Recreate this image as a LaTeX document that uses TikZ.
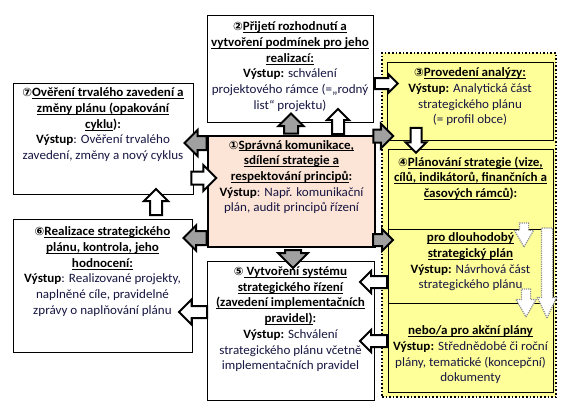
\documentclass[tikz,border=0pt]{standalone}
\usepackage{fontspec}
\setmainfont{Carlito}[FakeStretch=1.03]
\newfontfamily\symfont{DejaVu Sans}
\usetikzlibrary{positioning,shapes.arrows}
\definecolor{peach}{RGB}{252,228,214}
\definecolor{lemon}{RGB}{255,255,153}
\definecolor{ink}{RGB}{22,22,66}
\definecolor{arrg}{RGB}{160,160,160}
\newsavebox{\hdbox}
\newcommand{\hd}[1]{{\color{black}\bfseries\sbox{\hdbox}{#1}\rlap{\rule[-2.3pt]{\wd\hdbox}{0.9pt}}\usebox{\hdbox}}}
\newcommand{\nm}[1]{{\color{black}\symfont\bfseries\fontsize{11.5}{11}\selectfont #1}}
\newcommand{\vy}[1]{{\color{black}\textbf{#1}}}
\tikzset{
  box/.style={rectangle,draw=black,line width=0.8pt,fill=white,inner sep=0pt},
  ybox/.style={box,fill=lemon},
  zone/.style={rectangle,draw=black,dotted,line width=1.6pt,fill=lemon,inner sep=0pt},
  txt/.style={align=center,inner sep=0pt,text=ink,font=\fontsize{12.7}{15.7}\selectfont},
  arr/.style n args={3}{single arrow,inner sep=0pt,minimum height=#1,inner ysep=#3,single arrow head extend=#2},
  garr/.style={draw=black,line width=2pt,fill=arrg},
  warr/.style={draw=black,line width=2pt,fill=white},
  darr/.style={draw=black!45,densely dotted,line width=1.2pt,fill=white,single arrow tip angle=60},
}
\begin{document}
\begin{tikzpicture}[x=1pt,y=-1pt]
  \useasboundingbox (0,0) rectangle (573,415);
  % yellow zone with steps 3 and 4
  \node[zone,minimum width=174pt,minimum height=344pt] (zone) at (469,225) {};
  \node[ybox,minimum width=166pt,minimum height=78pt] (b3) at (470,101) {};
  \node[ybox,minimum width=165pt,minimum height=243pt] (b4) at (470.5,270.5) {};
  \node[ybox,minimum width=165pt,minimum height=74pt] (b4a) at (470.5,266) {};
  \node[ybox,minimum width=165pt,minimum height=89pt] (b4b) at (470.5,347.5) {};
  % other steps
  \node[box,minimum width=166pt,minimum height=107pt] (b2) at (290,68.5) {};
  \node[box,minimum width=180pt,minimum height=111pt] (b7) at (103,138.5) {};
  \node[box,minimum width=179pt,minimum height=133pt] (b6) at (102.5,285.5) {};
  \node[box,minimum width=167pt,minimum height=139pt] (b5) at (290.5,330.5) {};
  \node[box,fill=peach,line width=2.2pt,minimum width=167pt,minimum height=111pt] (b1) at (291.5,191.5) {};

  \node[txt,below=7pt of b2.north] (t2) {\nm{②}\hd{Přijetí rozhodnutí a}\\ \hd{vytvoření podmínek pro jeho}\\ \hd{realizací:}\\
    \vy{Výstup:} schválení\\ projektového rámce (=„rodný\\ list“ projektu)};
  \node[txt,below=5pt of b7.north] (t7) {\nm{⑦}\hd{Ověření trvalého zavedení a}\\ \hd{změny plánu (opakování}\\ \hd{cyklu}\vy{):}\\
    \vy{Výstup}: Ověření trvalého\\ zavedení, změny a nový cyklus};
  \node[txt,below=5pt of b1.north] (t1) {\nm{①}\hd{Správná komunikace,}\\ \hd{sdílení strategie a}\\ \hd{respektování principů}\vy{:}\\
    \vy{Výstup}: Např. komunikační\\ plán, audit principů řízení};
  \node[txt,below=6pt of b3.north] (t3) {\nm{③}\hd{Provedení analýzy:}\\ \vy{Výstup:} Analytická část\\ strategického plánu\\ (= profil obce)};
  \node[txt,below=8pt of b4.north] (t4) {\nm{④}\hd{Plánování strategie (vize,}\\ \hd{cílů, indikátorů, finančních  a}\\ \hd{časových  rámců}\vy{):}};
  \node[txt,below=4pt of b4a.north] (t4a) {\hd{pro dlouhodobý}\\ \hd{strategický plán}\\ \vy{Výstup:} Návrhová část\\ strategického plánu};
  \node[txt,below=23pt of b4b.north] (t4b) {\hd{nebo/a pro akční  plány}\\ \vy{Výstup:} Střednědobé či roční\\ plány, tematické  (koncepční)\\ dokumenty};
  \node[txt,below=8pt of b6.north] (t6) {\nm{⑥}\hd{Realizace strategického}\\ \hd{plánu, kontrola, jeho}\\ \hd{hodnocení:}\\
    \vy{Výstup}: Realizované projekty,\\ naplněné cíle, pravidelné\\ zprávy o naplňování plánu};
  \node[txt,below=6pt of b5.north] (t5) {\nm{⑤}\hd{~Vytvoření systému}\\ \hd{strategického řízení}\\ \hd{(zavedení implementačních}\\ \hd{pravidel)}\vy{:}\\
    \vy{Výstup:} Schválení\\ strategického plánu včetně\\ implementačních pravidel};

  % block arrows between the steps
  \node[arr={20pt}{5.5pt}{6pt},garr,rotate=90] (a12) at (291,127) {};
  \node[arr={25pt}{5pt}{5pt},warr,rotate=90] (a12w) at (338,124.5) {};
  \node[arr={23pt}{4pt}{4.5pt},warr] (a23) at (383.5,83.5) {};
  \node[arr={20pt}{6pt}{5.5pt},garr] (a1z) at (380,136) {};
  \node[arr={25pt}{5pt}{4.5pt},warr,rotate=-90] (a34) at (416,137.5) {};
  \node[arr={20pt}{5pt}{5pt},garr] (a14) at (380,240) {};
  \node[arr={27pt}{5pt}{5pt},warr,rotate=180] (a4a5) at (376.5,282) {};
  \node[arr={27pt}{5pt}{5pt},warr,rotate=180] (a4b5) at (376.5,341) {};
  \node[arr={18pt}{7pt}{7pt},garr,rotate=-90] (a15) at (293,255) {};
  \node[arr={22pt}{6pt}{6pt},garr,rotate=180] (a17) at (199,143) {};
  \node[arr={25pt}{6.5pt}{5.5pt},warr] (a71) at (200.5,178) {};
  \node[arr={26pt}{6pt}{5pt},warr,rotate=90] (a67) at (156,205) {};
  \node[arr={23pt}{5.5pt}{6pt},garr,rotate=180] (a16) at (198.5,238) {};
  \node[arr={28pt}{6.5pt}{5pt},warr,rotate=180] (a56) at (196,312) {};

  % dotted arrows inside step 4
  \node[arr={24pt}{5pt}{4pt},darr,rotate=-90] (d1) at (524,231) {};
  \node[arr={90pt}{4pt}{5pt},darr,rotate=-90,single arrow tip angle=50] (d2) at (547,267) {};
  \node[arr={28pt}{5.5pt}{4pt},darr,rotate=-90] (d3) at (526,299) {};
\end{tikzpicture}
\end{document}
